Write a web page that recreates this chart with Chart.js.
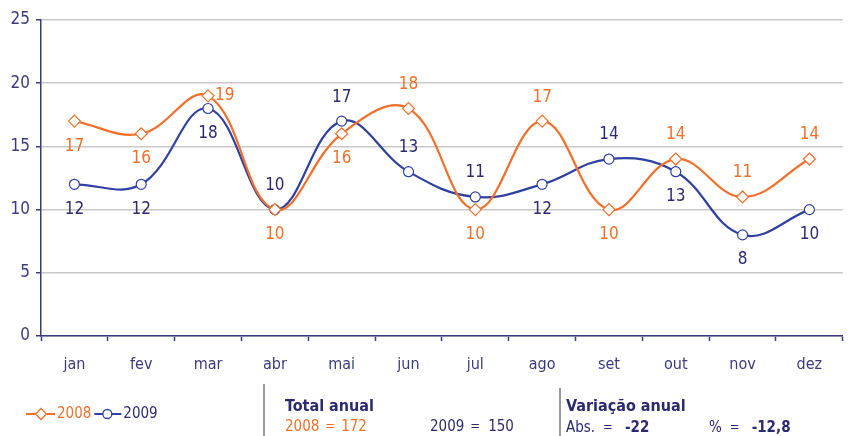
<!DOCTYPE html>
<html>
<head>
<meta charset="utf-8">
<script src="https://cdn.jsdelivr.net/npm/chart.js@4/dist/chart.umd.min.js"></script>
<style>
  html, body { margin: 0; padding: 0; background: #fff; }
  #wrap { width: 850px; height: 436px; }
</style>
</head>
<body>
<div id="wrap"><canvas id="grafico"></canvas></div>
<script>
// dados
const meses = ['jan', 'fev', 'mar', 'abr', 'mai', 'jun', 'jul', 'ago', 'set', 'out', 'nov', 'dez'];
const valores2008 = [17, 16, 19, 10, 16, 18, 10, 17, 10, 14, 11, 14];
const valores2009 = [12, 12, 18, 10, 17, 13, 11, 12, 14, 13, 8, 10];
const ticksY = [0, 5, 10, 15, 20, 25];
const total2008 = 172;
const total2009 = 150;
const variacaoAbs = '-22';
const variacaoPct = '-12,8';

// onde fica cada rótulo (acima / abaixo / direita)
const pos2008 = ['below', 'below', 'right', 'below', 'below', 'above', 'below', 'above', 'below', 'above', 'above', 'above'];
const pos2009 = ['below', 'below', 'below', 'above', 'above', 'above', 'above', 'below', 'above', 'below', 'below', 'below'];

const LARANJA = '#f26f2a';
const AZUL = '#2f40a0';
const AZUL_TXT = '#2c2a6e';
const FONTE = '"Liberation Sans Narrow", "Arial Narrow", "DejaVu Sans Condensed", sans-serif';

// rótulos de valores nos pontos
const rotulosPlugin = {
    id: 'rotulos',
    afterDatasetsDraw(chart) {
        const ctx = chart.ctx;
        ctx.save();
        ctx.font = '17px ' + FONTE;
        ctx.textBaseline = 'middle';
        chart.data.datasets.forEach((ds, i) => {
            const meta = chart.getDatasetMeta(i);
            const posicoes = i === 0 ? pos2008 : pos2009;
            ctx.fillStyle = i === 0 ? LARANJA : AZUL_TXT;
            meta.data.forEach((pt, j) => {
                let x = pt.x, y = pt.y;
                ctx.textAlign = 'center';
                if (posicoes[j] === 'above') y -= 24;
                else if (posicoes[j] === 'below') y += 25;
                else { x += 7; ctx.textAlign = 'left'; }
                ctx.fillText(String(ds.data[j]), x, y);
            });
        });
        ctx.restore();
    }
};

// escreve pedaços de texto em sequência numa linha
function linha(ctx, x, y, partes) {
    partes.forEach(p => {
        ctx.font = p.font;
        ctx.fillStyle = p.cor;
        ctx.fillText(p.txt, x, y);
        x += ctx.measureText(p.txt).width + (p.gap || 0);
    });
}

// legenda e quadro de totais em baixo
const rodapePlugin = {
    id: 'rodape',
    afterDraw(chart) {
        const ctx = chart.ctx;
        ctx.save();
        ctx.textBaseline = 'middle';
        ctx.textAlign = 'left';

        // legenda
        const yl = 414;
        ctx.font = '15px ' + FONTE;
        ctx.lineWidth = 2;
        ctx.strokeStyle = LARANJA;
        ctx.beginPath(); ctx.moveTo(26, yl); ctx.lineTo(55, yl); ctx.stroke();
        ctx.fillStyle = '#fff';
        ctx.lineWidth = 1.3;
        ctx.beginPath();
        ctx.moveTo(41, yl - 5.5); ctx.lineTo(46.5, yl); ctx.lineTo(41, yl + 5.5); ctx.lineTo(35.5, yl); ctx.closePath();
        ctx.fill(); ctx.stroke();
        ctx.fillStyle = LARANJA;
        ctx.fillText('2008', 57, yl);
        const x2 = 57 + ctx.measureText('2008').width + 3;
        ctx.strokeStyle = AZUL;
        ctx.lineWidth = 2;
        ctx.beginPath(); ctx.moveTo(x2, yl); ctx.lineTo(x2 + 27, yl); ctx.stroke();
        ctx.fillStyle = '#fff';
        ctx.lineWidth = 1.3;
        ctx.beginPath(); ctx.arc(x2 + 13, yl, 4.5, 0, Math.PI * 2); ctx.fill(); ctx.stroke();
        ctx.fillStyle = AZUL_TXT;
        ctx.fillText('2009', x2 + 29, yl);

        // separadores
        ctx.strokeStyle = '#777';
        ctx.lineWidth = 1.5;
        ctx.beginPath(); ctx.moveTo(264, 384); ctx.lineTo(264, 436); ctx.stroke();
        ctx.beginPath(); ctx.moveTo(560, 388); ctx.lineTo(560, 436); ctx.stroke();

        const normal = '15px ' + FONTE;
        const pequeno = '13px ' + FONTE;
        const negrito = 'bold 15px ' + FONTE;

        // total anual
        linha(ctx, 285, 407, [{ txt: 'Total anual', font: 'bold 16px ' + FONTE, cor: AZUL_TXT }]);
        linha(ctx, 285, 427, [
            { txt: '2008', font: normal, cor: LARANJA, gap: 6 },
            { txt: '=', font: pequeno, cor: LARANJA, gap: 6 },
            { txt: String(total2008), font: normal, cor: LARANJA }
        ]);
        linha(ctx, 430, 427, [
            { txt: '2009', font: normal, cor: AZUL_TXT, gap: 6 },
            { txt: '=', font: pequeno, cor: AZUL_TXT, gap: 8 },
            { txt: String(total2009), font: normal, cor: AZUL_TXT }
        ]);

        // variação anual
        linha(ctx, 566, 407, [{ txt: 'Variação anual', font: 'bold 16px ' + FONTE, cor: AZUL_TXT }]);
        linha(ctx, 566, 428, [
            { txt: 'Abs.', font: normal, cor: AZUL_TXT, gap: 8 },
            { txt: '=', font: pequeno, cor: AZUL_TXT, gap: 12 },
            { txt: variacaoAbs, font: negrito, cor: AZUL_TXT }
        ]);
        linha(ctx, 709, 428, [
            { txt: '%', font: normal, cor: AZUL_TXT, gap: 8 },
            { txt: '=', font: pequeno, cor: AZUL_TXT, gap: 12 },
            { txt: variacaoPct, font: negrito, cor: AZUL_TXT }
        ]);
        ctx.restore();
    }
};

new Chart(document.getElementById('grafico'), {
    type: 'line',
    data: {
        labels: meses,
        datasets: [{
            label: '2008',
            data: valores2008,
            borderColor: LARANJA,
            backgroundColor: '#fff',
            borderWidth: 2.2,
            tension: 0.4,
            pointStyle: 'rectRot',
            pointRadius: 6,
            pointBorderWidth: 1.2,
            pointBackgroundColor: '#fff',
            pointBorderColor: LARANJA
        }, {
            label: '2009',
            data: valores2009,
            borderColor: AZUL,
            backgroundColor: '#fff',
            borderWidth: 2.2,
            tension: 0.4,
            pointStyle: 'circle',
            pointRadius: 5,
            pointBorderWidth: 1.2,
            pointBackgroundColor: '#fff',
            pointBorderColor: AZUL
        }]
    },
    options: {
        responsive: true,
        maintainAspectRatio: false,
        animation: false,
        layout: { padding: { top: 20, right: 5, left: 0, bottom: 0 } },
        scales: {
            x: {
                offset: true,
                grid: {
                    display: true,
                    offset: true,
                    drawOnChartArea: false,
                    drawTicks: true,
                    tickLength: 5,
                    tickColor: '#3b3a7a',
                    tickWidth: 1.5
                },
                border: { color: '#3b3a7a', width: 1.5 },
                ticks: {
                    color: '#3b3a7a',
                    font: { family: FONTE, size: 16 },
                    padding: 14
                },
                afterFit: s => { s.height = 100; }
            },
            y: {
                min: 0,
                max: 25,
                afterBuildTicks: s => { s.ticks = ticksY.map(v => ({ value: v })); },
                grid: {
                    color: '#c8c8c8',
                    lineWidth: 1.5,
                    tickLength: 5,
                    tickColor: '#3b3a7a'
                },
                border: { color: '#3b3a7a', width: 1.5 },
                ticks: {
                    color: '#3b3a7a',
                    font: { family: FONTE, size: 17 },
                    padding: 6
                },
                afterFit: s => { s.width = 41; }
            }
        },
        plugins: {
            legend: { display: false },
            tooltip: { enabled: false }
        }
    },
    plugins: [rotulosPlugin, rodapePlugin]
});
</script>
</body>
</html>
